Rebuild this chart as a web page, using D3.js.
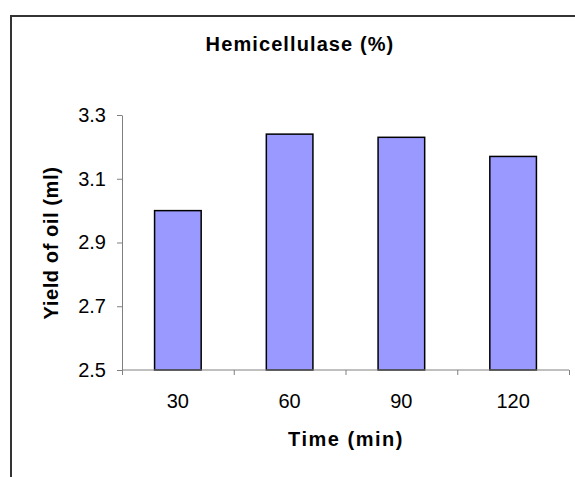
<!DOCTYPE html>
<html>
<head>
<meta charset="utf-8">
<script src="https://cdn.jsdelivr.net/npm/d3@7"></script>
<style>
  html, body { margin: 0; padding: 0; background: #fff; }
  svg { display: block; font-family: "Liberation Sans", Arial, sans-serif; }
</style>
</head>
<body>
<svg id="chart" width="575" height="477"></svg>
<script>
// Oil yield by incubation time
const categories = ["30", "60", "90", "120"];
const yieldValues = [3.0, 3.24, 3.23, 3.17];
const yTicks = [2.5, 2.7, 2.9, 3.1, 3.3];

const svg = d3.select("#chart");
const plot = { left: 122, right: 569, top: 115, bottom: 370 };
const FONT = "Liberation Sans, Arial, sans-serif";

// Outer frame (left and top edges)
svg.append("path")
  .attr("d", "M11,477 V16 H575")
  .attr("fill", "none")
  .attr("stroke", "#333")
  .attr("stroke-width", 2);

const x = d3.scaleBand()
  .domain(categories)
  .range([plot.left, plot.right])
  .paddingInner(0.583)
  .paddingOuter(0.2915);

const xBoundary = d3.scaleLinear()
  .domain([0, categories.length])
  .range([plot.left, plot.right]);

const y = d3.scaleLinear()
  .domain([2.5, 3.3])
  .range([plot.bottom, plot.top]);

// Bars
svg.append("g")
  .selectAll("rect")
  .data(categories.map((c, i) => ({ c, v: yieldValues[i] })))
  .join("rect")
  .attr("x", d => x(d.c))
  .attr("y", d => y(d.v))
  .attr("width", x.bandwidth())
  .attr("height", d => y(2.5) - y(d.v))
  .attr("fill", "#9999ff")
  .attr("stroke", "#000")
  .attr("stroke-width", 1.5);

// Y axis
const yAxis = svg.append("g")
  .attr("transform", `translate(${plot.left},0)`)
  .call(d3.axisLeft(y).tickValues(yTicks).tickFormat(d3.format(".1f")).tickSize(5).tickSizeOuter(0));
yAxis.select(".domain").attr("stroke", "#808080");
yAxis.selectAll(".tick line").attr("stroke", "#808080");
yAxis.selectAll(".tick text")
  .attr("font-size", 20)
  .attr("font-family", FONT)
  .attr("fill", "#000")
  .attr("x", -16);

// X axis: ticks at category boundaries, labels at category centres
const xAxisG = svg.append("g").attr("transform", `translate(0,${plot.bottom})`);
xAxisG.append("line")
  .attr("x1", plot.left).attr("x2", plot.right)
  .attr("stroke", "#808080");
xAxisG.selectAll(".btick")
  .data(d3.range(categories.length + 1))
  .join("line")
  .attr("class", "btick")
  .attr("x1", d => xBoundary(d) + 0.5)
  .attr("x2", d => xBoundary(d) + 0.5)
  .attr("y1", 0).attr("y2", 5)
  .attr("stroke", "#808080");
xAxisG.selectAll(".xlabel")
  .data(categories)
  .join("text")
  .attr("class", "xlabel")
  .attr("x", d => x(d) + x.bandwidth() / 2)
  .attr("y", 37.5)
  .attr("text-anchor", "middle")
  .attr("font-size", 20)
  .attr("fill", "#000")
  .text(d => d);

// Titles
svg.append("text")
  .attr("x", 300).attr("y", 51)
  .attr("text-anchor", "middle")
  .attr("font-size", 20).attr("font-weight", "bold")
  .attr("letter-spacing", 1.1)
  .text("Hemicellulase (%)");

svg.append("text")
  .attr("x", 346).attr("y", 446)
  .attr("text-anchor", "middle")
  .attr("font-size", 20).attr("font-weight", "bold")
  .attr("letter-spacing", 1.5)
  .text("Time (min)");

svg.append("text")
  .attr("transform", "translate(58,243) rotate(-90)")
  .attr("text-anchor", "middle")
  .attr("font-size", 20).attr("font-weight", "bold")
  .attr("letter-spacing", 0.6)
  .text("Yield of oil (ml)");
</script>
</body>
</html>
